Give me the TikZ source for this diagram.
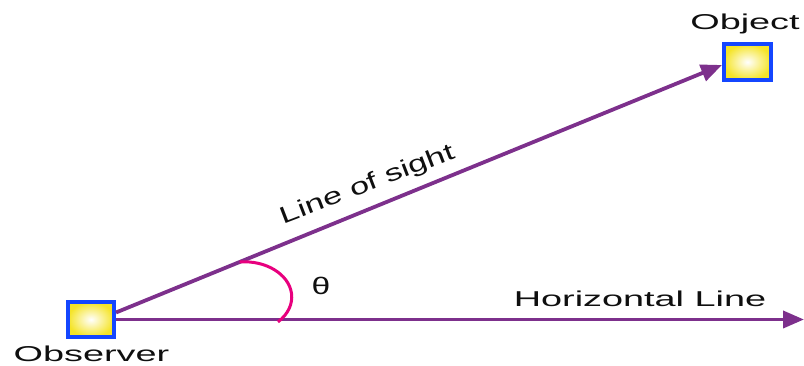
\documentclass[tikz,border=0pt]{standalone}
\usepackage{fontspec}
\setmainfont{Liberation Sans}
\usetikzlibrary{arrows.meta,shadings}
\definecolor{boxblue}{RGB}{20,70,255}
\definecolor{boxyellow}{RGB}{245,228,40}
\definecolor{lineviolet}{RGB}{125,48,140}
\definecolor{arcpink}{RGB}{232,0,126}
\definecolor{txt}{RGB}{15,15,15}
\tikzset{
  marker/.style={draw=boxblue, line width=4pt, inner color=white, outer color=boxyellow,
    minimum width=46pt, minimum height=35pt, inner sep=0pt},
  ray/.style={draw=lineviolet, line width=3.8pt,
    -{Triangle[length=21pt,width=17pt]}},
  anglearc/.style={draw=arcpink, line width=3pt},
  lbl/.style={anchor=base, inner sep=0pt, text=txt, font=\fontsize{21.5}{25}\selectfont},
}
\newcommand{\wide}[1]{\scalebox{1.76}[1]{#1}}
\begin{document}
\begin{tikzpicture}[x=1pt,y=1pt]
\useasboundingbox (0,0) rectangle (804,366);
\node[marker] (obs) at (91,46.5) {};
\node[marker, minimum width=47pt, minimum height=36pt] (obj) at (747.5,304) {};
\coordinate (hend) at (804,46.5);
\draw[ray] (obs.east) -- (hend);
\draw[ray] ([yshift=7pt]obs.east) -- coordinate[pos=0.204] (arcstart) ([yshift=-3pt]obj.west);
\draw[anglearc] (arcstart) arc[start angle=96, end angle=-45, x radius=47.2, y radius=35.2];
\node[lbl] (obslbl) at (91.5,4) {\wide{Observer}};
\node[lbl] (objlbl) at (745,336) {\wide{Object}};
\node[lbl] (hlbl) at (640,59) {\wide{Horizontal Line}};
\node[lbl, font=\fontsize{24}{28}\selectfont] (theta) at (321,71) {\scalebox{1.4}[1]{θ}};
\node[lbl, rotate=21] (sight) at (370,175) {\scalebox{1.6}[1.1]{Line of sight}};
\end{tikzpicture}
\end{document}
